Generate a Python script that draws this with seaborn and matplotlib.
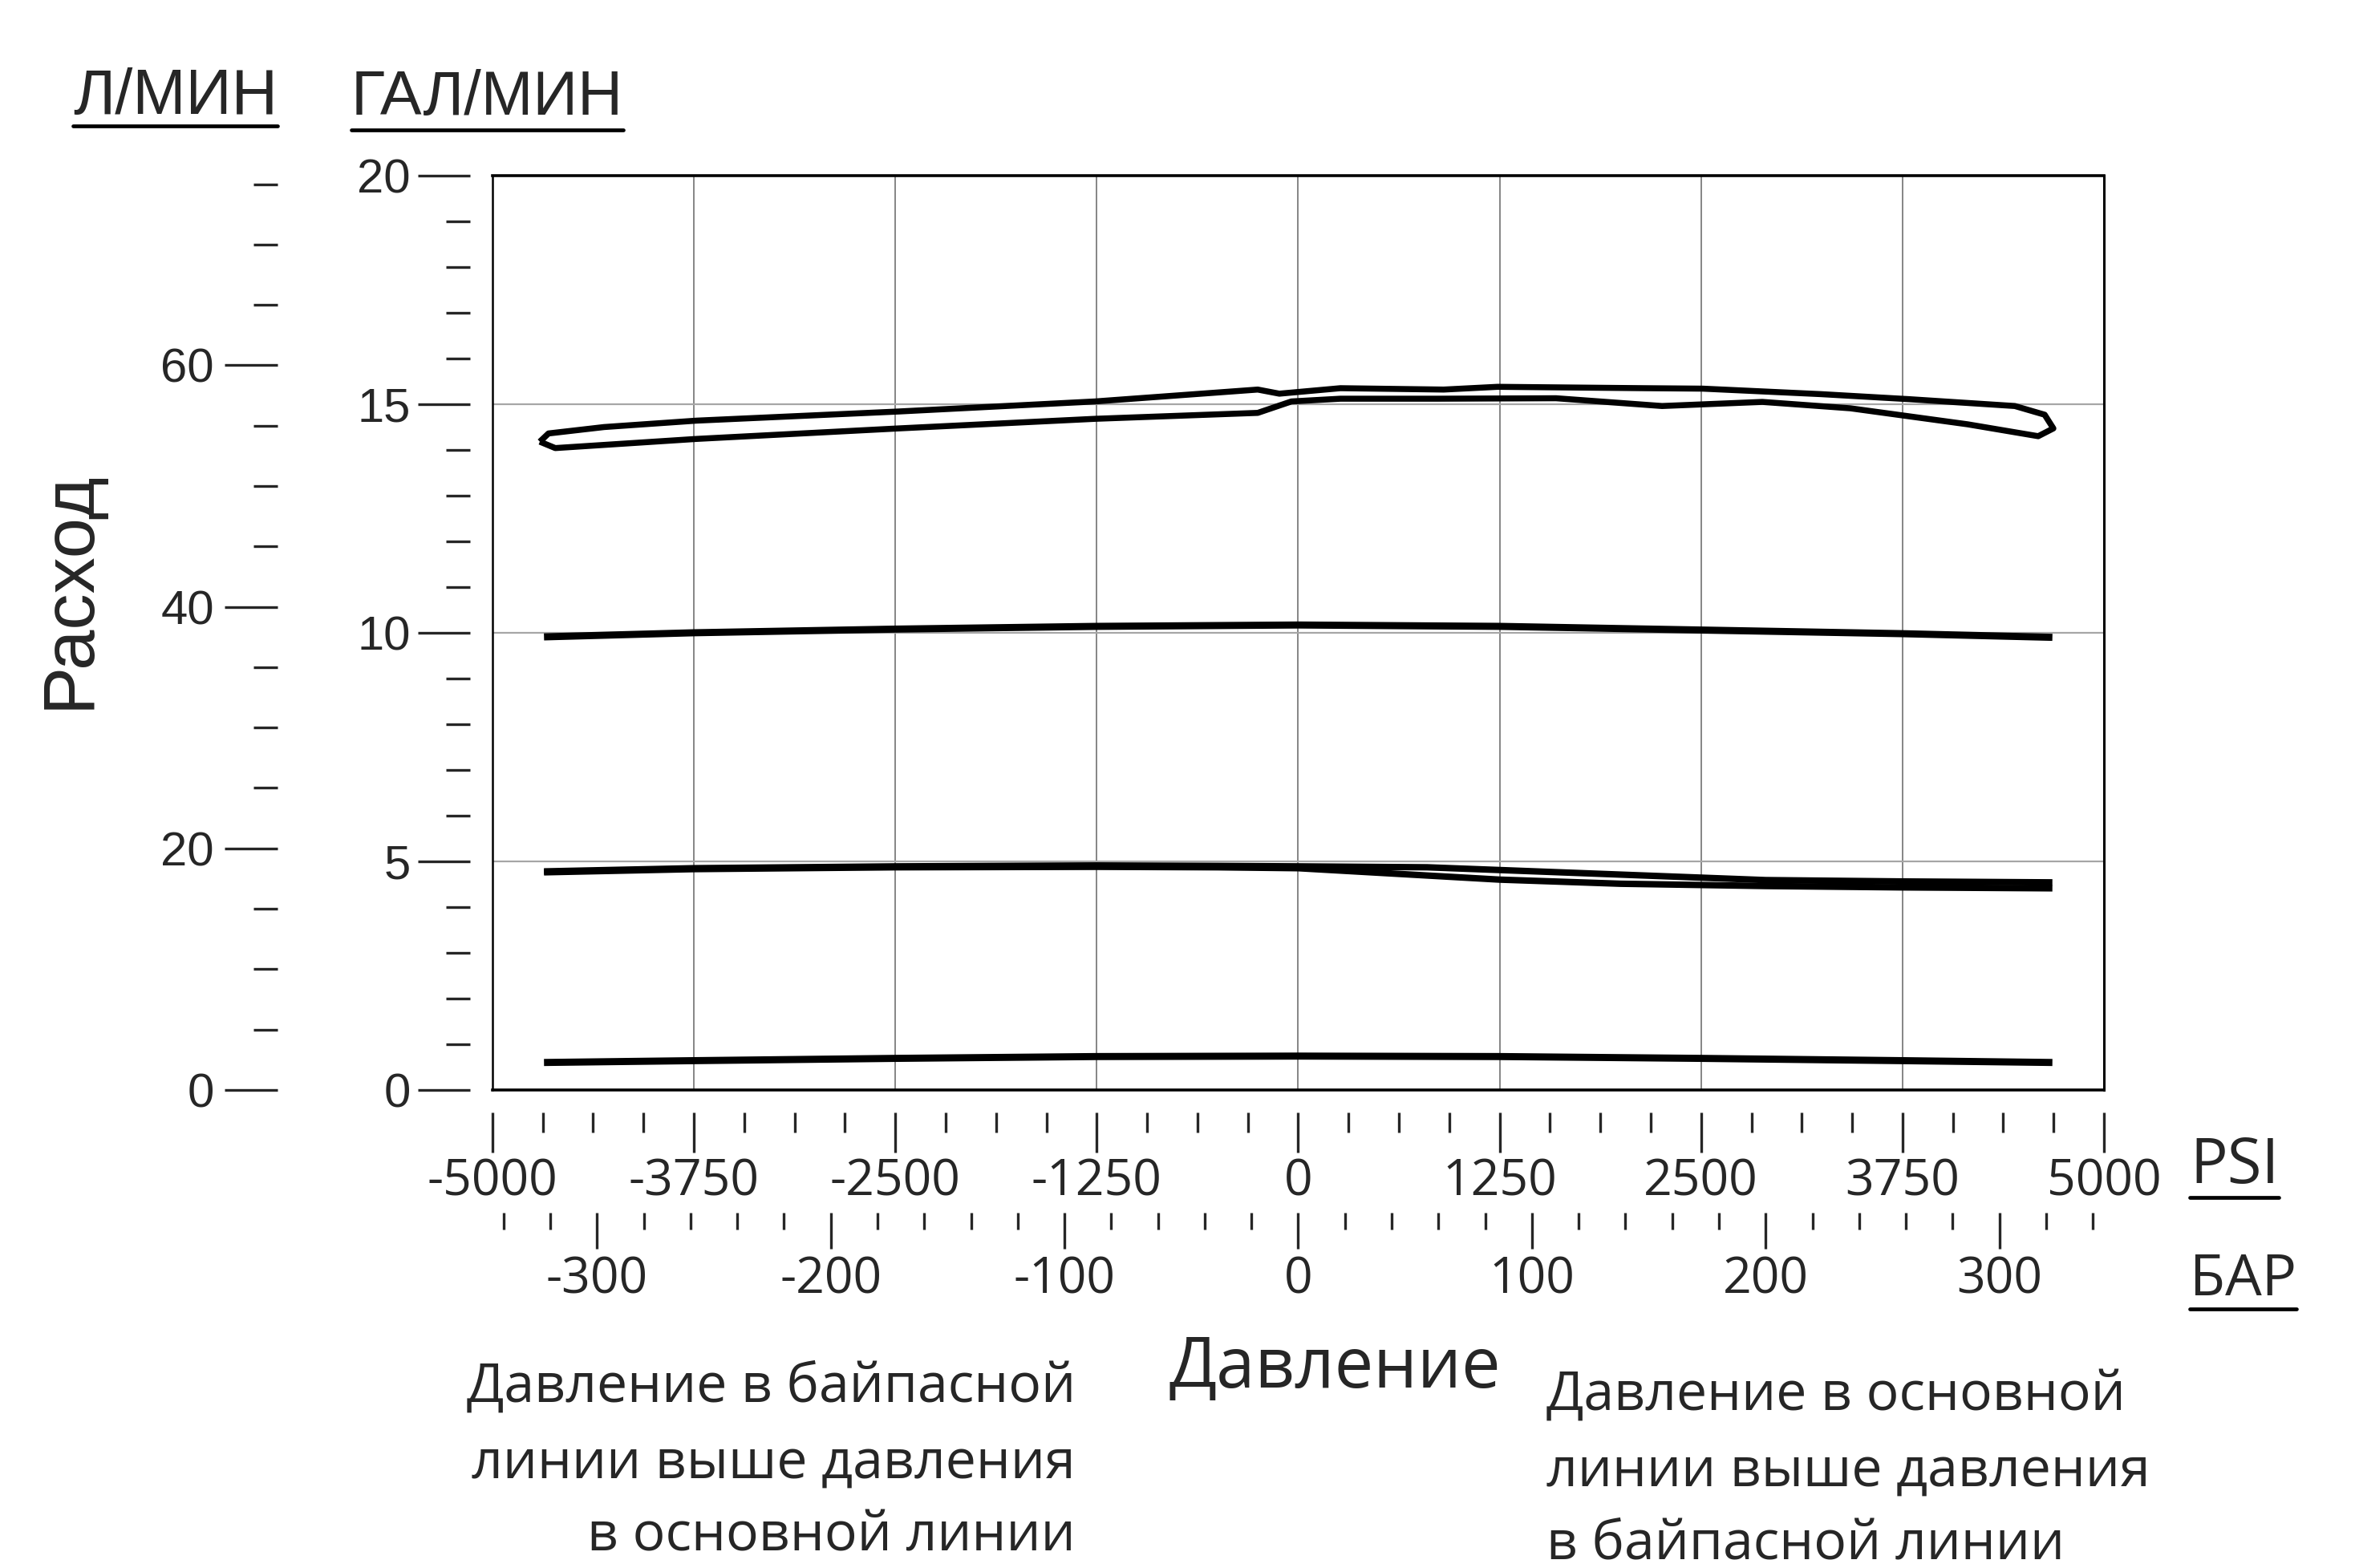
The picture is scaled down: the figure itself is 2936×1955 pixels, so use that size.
import numpy as np
import pandas as pd
import matplotlib
matplotlib.use("Agg")
import matplotlib.pyplot as plt
import seaborn as sns
from matplotlib.ticker import MultipleLocator, FixedLocator, FuncFormatter
from matplotlib.lines import Line2D

# ---- data: flow (US gal/min) against differential pressure (psi) ----
psi_flat = [-4680, -3750, -2500, -1250, 0, 1250, 2500, 3750, 4680]
gpm_10 = [9.91, 10.00, 10.08, 10.14, 10.17, 10.14, 10.06, 9.98, 9.90]
gpm_low = [0.60, 0.64, 0.69, 0.73, 0.74, 0.73, 0.69, 0.64, 0.60]

psi_5 = [-4680, -3750, -2500, -1250, -500, 0, 800, 1250, 2000, 2900, 3750, 4680]
gpm_5_rise = [4.78, 4.85, 4.89, 4.91, 4.90, 4.89, 4.87, 4.81, 4.71, 4.59, 4.56, 4.54]
gpm_5_fall = [4.76, 4.83, 4.87, 4.88, 4.87, 4.85, 4.69, 4.60, 4.51, 4.46, 4.43, 4.41]

# 15 gal/min trace is a closed hysteresis loop (upper branch, then lower branch back)
psi_15 = [-4706, -4652, -4307, -3735, -2481, -1261, -251, -117, 262, 903, 1237,
          2148, 2511, 3243, 3790, 4447, 4632, 4686, 4592, 4154, 3427, 2880, 2258,
          1600, 868, 262, -42, -251, -1261, -2481, -3735, -4610, -4706]
gpm_15 = [14.18, 14.36, 14.50, 14.64, 14.84, 15.06, 15.32, 15.23, 15.35, 15.32, 15.38,
          15.35, 15.34, 15.22, 15.11, 14.96, 14.77, 14.47, 14.30, 14.56, 14.91, 15.05, 14.96,
          15.13, 15.12, 15.12, 15.06, 14.81, 14.68, 14.47, 14.24, 14.04, 14.18]

psi_major = [-5000, -3750, -2500, -1250, 0, 1250, 2500, 3750, 5000]
bar_major = [-300, -200, -100, 0, 100, 200, 300]
gpm_major = [0, 5, 10, 15, 20]
lpm_major = [0, 20, 40, 60]

PSI_PER_BAR = 14.5038
L_PER_GAL = 3.78541

# ---- style ----
sns.set_style("white")
plt.rcParams["font.family"] = ["Liberation Sans", "DejaVu Sans"]
plt.rcParams["axes.unicode_minus"] = False
HUMANIST = ["Open Sans", "DejaVu Sans"]

W, H = 2936, 1955
fig = plt.figure(figsize=(W / 100, H / 100), dpi=100)
fig.patch.set_facecolor("white")
ax = fig.add_axes([0.2091, 0.3049, 0.6843, 0.5831])
ax.set_xlim(-5000, 5000)
ax.set_ylim(0, 20)

# grid
ax.set_xticks(psi_major[1:-1])
ax.set_yticks([5, 10, 15])
ax.tick_params(length=0, labelbottom=False, labelleft=False)
ax.set_axisbelow(True)
ax.xaxis.grid(True, color="#7c7c7c", lw=1.3)
ax.yaxis.grid(True, color="#a6a6a6", lw=1.6)
for side, lw in {"top": 2.6, "bottom": 2.6, "left": 1.8, "right": 2.2}.items():
    ax.spines[side].set_visible(True)
    ax.spines[side].set_color("black")
    ax.spines[side].set_linewidth(lw)

# curves
kw = dict(color="black", estimator=None, sort=False, legend=False, ax=ax,
          solid_joinstyle="round", solid_capstyle="butt")
sns.lineplot(x=psi_flat, y=gpm_low, lw=6.4, **kw)
sns.lineplot(x=psi_flat, y=gpm_10, lw=6.4, **kw)
sns.lineplot(x=psi_5, y=gpm_5_rise, lw=5.8, **kw)
sns.lineplot(x=psi_5, y=gpm_5_fall, lw=5.8, **kw)
sns.lineplot(x=psi_15, y=gpm_15, lw=5.4, **kw)
ax.set_xlabel("")
ax.set_ylabel("")

# ---- outer scales ----
ident = (lambda v: v, lambda v: v)

gpm_ax = ax.secondary_yaxis(-0.0139, functions=ident)
gpm_ax.yaxis.set_major_locator(FixedLocator(gpm_major))
gpm_ax.yaxis.set_minor_locator(MultipleLocator(1))
gpm_ax.yaxis.set_major_formatter(FuncFormatter(lambda v, p: f"{v:.0f}"))
gpm_ax.tick_params(which="major", direction="out", length=47, width=2.4, pad=6.5, labelsize=43)
gpm_ax.tick_params(which="minor", direction="out", length=21.6, width=2.4)

lpm_ax = ax.secondary_yaxis(-0.1334, functions=(lambda g: g * L_PER_GAL, lambda l: l / L_PER_GAL))
lpm_ax.yaxis.set_major_locator(FixedLocator(lpm_major))
lpm_ax.yaxis.set_minor_locator(MultipleLocator(5))
lpm_ax.yaxis.set_major_formatter(FuncFormatter(lambda v, p: f"{v:.0f}"))
lpm_ax.tick_params(which="major", direction="out", length=47.5, width=2.4, pad=9.4, labelsize=43)
lpm_ax.tick_params(which="minor", direction="out", length=21.6, width=2.4)

psi_ax = ax.secondary_xaxis(-0.0246, functions=ident)
psi_ax.xaxis.set_major_locator(FixedLocator(psi_major))
psi_ax.xaxis.set_minor_locator(MultipleLocator(312.5))
psi_ax.xaxis.set_major_formatter(FuncFormatter(lambda v, p: f"{v:.0f}"))
psi_ax.tick_params(which="major", direction="out", length=36, width=2.4, pad=4, labelsize=45)
psi_ax.tick_params(which="minor", direction="out", length=18, width=2.4)

bar_ax = ax.secondary_xaxis(-0.1342, functions=(lambda p: p / PSI_PER_BAR, lambda b: b * PSI_PER_BAR))
bar_ax.xaxis.set_major_locator(FixedLocator(bar_major))
bar_ax.xaxis.set_minor_locator(MultipleLocator(20))
bar_ax.xaxis.set_major_formatter(FuncFormatter(lambda v, p: f"{v:.0f}"))
bar_ax.tick_params(which="major", direction="out", length=32.4, width=2.4, pad=6, labelsize=45)
bar_ax.tick_params(which="minor", direction="out", length=15, width=2.4)

for sec in (psi_ax, bar_ax):
    for lab in sec.get_xticklabels():
        lab.set_family(HUMANIST)
for sec in (gpm_ax, lpm_ax, psi_ax, bar_ax):
    for sp in sec.spines.values():
        sp.set_visible(False)

# ---- texts ----
renderer = fig.canvas.get_renderer()


def fy(py):
    return 1 - py / H


def fit_width(t, px):
    w = t.get_window_extent(renderer).width
    t.set_fontsize(t.get_fontsize() * px / w)


def underline(t, py, lw=3.4):
    bb = t.get_window_extent(renderer)
    fig.add_artist(Line2D([bb.x0 / W, bb.x1 / W], [fy(py), fy(py)],
                          color="black", lw=lw, transform=fig.transFigure))


t_lpm = fig.text(91 / W, fy(142), "Л/МИН", fontsize=58, ha="left", va="baseline")
t_gpm = fig.text(438 / W, fy(143), "ГАЛ/МИН", fontsize=58, ha="left", va="baseline")
fit_width(t_lpm, 255)
fit_width(t_gpm, 339)
underline(t_lpm, 157)
underline(t_gpm, 162)

fig.text(87 / W, fy(735), "Расход", fontsize=65, rotation=90, ha="center", va="center")

t_psi = fig.text(2730 / W, fy(1475), "PSI", fontsize=56, family=HUMANIST, ha="left", va="baseline")
t_bar = fig.text(2730 / W, fy(1615), "БАР", fontsize=52, family=HUMANIST, ha="left", va="baseline")
underline(t_psi, 1493)
underline(t_bar, 1632)

t_p = fig.text(1457 / W, fy(1730), "Давление", fontsize=70, family=HUMANIST, ha="left", va="baseline")
fit_width(t_p, 414)

left_lines = ["Давление в байпасной", "линии выше давления", "в основной линии"]
right_lines = ["Давление в основной", "линии выше давления", "в байпасной линии"]
left_base = [1748, 1843, 1933]
right_base = [1758, 1853, 1943]

probe = fig.text(0, 0, left_lines[0], fontsize=50, family=HUMANIST)
fit_width(probe, 762)
note_size = probe.get_fontsize()
probe.remove()

for s, b in zip(left_lines, left_base):
    fig.text(1341 / W, fy(b), s, fontsize=note_size, family=HUMANIST, ha="right", va="baseline")
for s, b in zip(right_lines, right_base):
    fig.text(1928 / W, fy(b), s, fontsize=note_size, family=HUMANIST, ha="left", va="baseline")

fig.savefig("out.png", dpi=100, facecolor="white")
